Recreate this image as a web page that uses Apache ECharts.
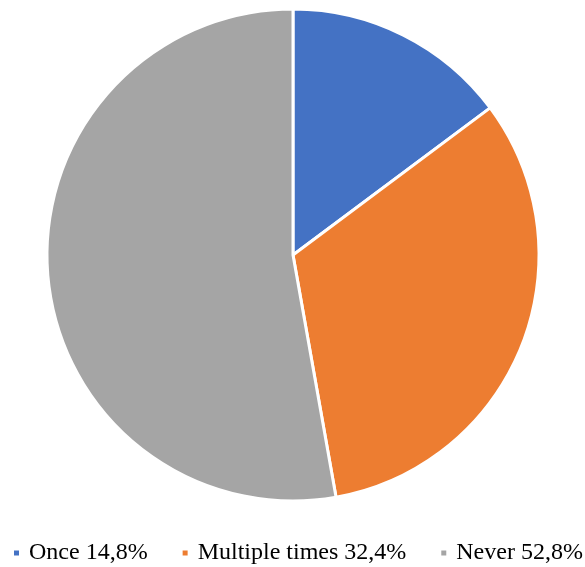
<!DOCTYPE html>
<html><head><meta charset="utf-8">
<script src="https://cdn.jsdelivr.net/npm/echarts@6/dist/echarts.min.js"></script>
<style>html,body{margin:0;padding:0;background:#fff}#c{width:585px;height:567px}</style>
</head><body><div id="c"></div>
<script>
const categories = ["Once 14,8%", "Multiple times 32,4%", "Never 52,8%"];
const values = [14.8, 32.4, 52.8];
const colors = ["#4472C4", "#ED7D31", "#A5A5A5"];
const chart = echarts.init(document.getElementById('c'), null, {renderer: 'canvas'});
chart.setOption({
  animation: false,
  color: colors,
  legend: {
    top: 541, left: 12,
    padding: [0, 0, 0, 0],
    itemWidth: 7, itemHeight: 7, itemGap: 33,
    icon: 'rect',
    textStyle: {fontFamily: '"Liberation Serif", "Times New Roman", serif', fontSize: 24, color: '#000', padding: [0, 0, 0, 4]},
    data: categories
  },
  series: [{
    type: 'pie',
    center: [293, 255],
    radius: [0, 246],
    startAngle: 90,
    clockwise: true,
    label: {show: false},
    labelLine: {show: false},
    itemStyle: {borderColor: '#fff', borderWidth: 3},
    emphasis: {disabled: true},
    data: categories.map((c, i) => ({name: c, value: values[i]}))
  }]
});
</script></body></html>
